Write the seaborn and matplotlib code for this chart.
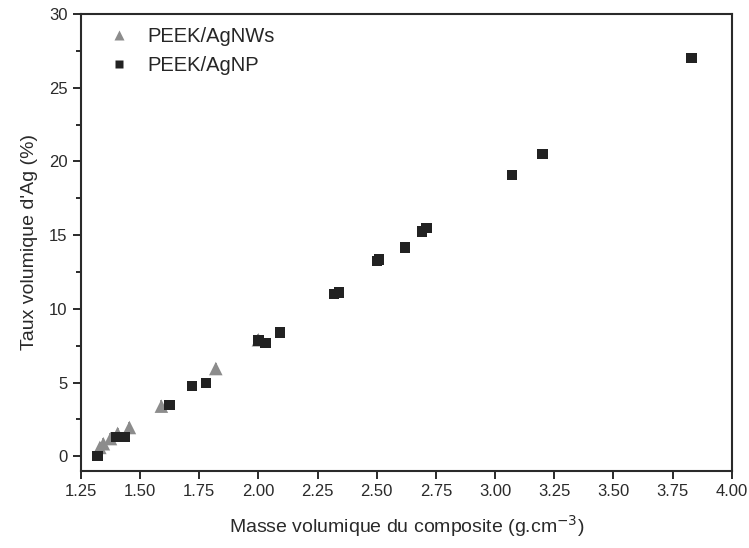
import matplotlib
matplotlib.use("Agg")
import matplotlib.pyplot as plt
import seaborn as sns
import pandas as pd
from matplotlib.ticker import MultipleLocator

# ---- data ----
nw_density = [1.33, 1.345, 1.375, 1.405, 1.455, 1.59, 1.82, 2.00]
nw_ag = [0.6, 0.85, 1.2, 1.55, 1.95, 3.4, 5.95, 7.9]
nw_err = [0.4, 0.4, 0.4, 0.4, 0.4, 0.4, 0.4, 0.4]

np_density = [1.32, 1.40, 1.435, 1.625, 1.72, 1.78, 2.00, 2.03, 2.09,
              2.32, 2.34, 2.50, 2.51, 2.62, 2.69, 2.71, 3.07, 3.20, 3.83]
np_ag = [0.0, 1.3, 1.3, 3.5, 4.75, 4.95, 7.85, 7.7, 8.4,
         11.0, 11.1, 13.25, 13.35, 14.15, 15.25, 15.5, 19.1, 20.5, 27.0]

LABEL_NW = "PEEK/AgNWs"
LABEL_NP = "PEEK/AgNP"

df = pd.concat([
    pd.DataFrame({"x": nw_density, "y": nw_ag, "serie": LABEL_NW}),
    pd.DataFrame({"x": np_density, "y": np_ag, "serie": LABEL_NP}),
], ignore_index=True)

sns.set_style("ticks")
plt.rcParams["font.family"] = ["Liberation Sans", "DejaVu Sans"]
TXT = "#2a2a2a"

fig = plt.figure(figsize=(7.49, 5.48), dpi=100)
ax = fig.add_axes([0.108, 0.1405, 0.869, 0.834])

ax.errorbar(nw_density, nw_ag, yerr=nw_err, fmt="none", ecolor="#8c8c8c",
            elinewidth=1.2, capsize=0, zorder=1)
sns.scatterplot(data=df, x="x", y="y", hue="serie", style="serie", size="serie",
                palette={LABEL_NW: "#8c8c8c", LABEL_NP: "#222222"},
                markers={LABEL_NW: "^", LABEL_NP: "s"},
                sizes={LABEL_NW: 95, LABEL_NP: 55},
                edgecolor="none", ax=ax, zorder=2)

ax.set_xlim(1.25, 4.00)
ax.set_ylim(-1.0, 30)
ax.xaxis.set_major_locator(MultipleLocator(0.25))
ax.yaxis.set_major_locator(MultipleLocator(5))
ax.yaxis.set_minor_locator(MultipleLocator(2.5))
ax.set_xticklabels([f"{v:.2f}" for v in ax.get_xticks()])
ax.tick_params(axis="both", which="major", direction="out", length=6,
               width=1.4, labelsize=12, colors=TXT)
ax.tick_params(axis="y", which="minor", direction="out", length=3.5, width=1.4,
               colors=TXT)
for sp in ax.spines.values():
    sp.set_linewidth(1.5)
    sp.set_color(TXT)

ax.set_xlabel("Masse volumique du composite (g.cm$^{-3}$)", fontsize=14,
              color=TXT, labelpad=10)
ax.set_ylabel("Taux volumique d'Ag (%)", fontsize=14, color=TXT, labelpad=8)

leg = ax.legend(loc="upper left", frameon=False, fontsize=14.5,
                bbox_to_anchor=(0.0, 1.012), handletextpad=0.4,
                labelspacing=0.5, markerscale=0.75)

fig.savefig("out.png", dpi=100)
